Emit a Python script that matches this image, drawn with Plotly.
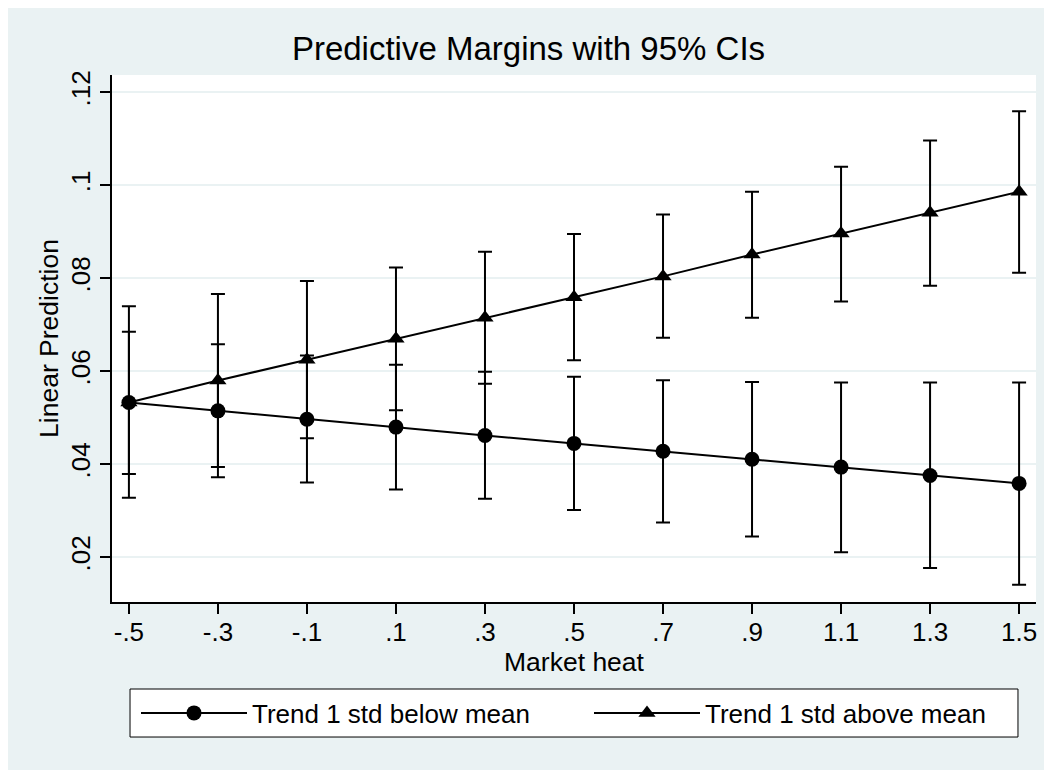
import plotly.graph_objects as go

# ---- data ----
market_heat = [-0.5, -0.3, -0.1, 0.1, 0.3, 0.5, 0.7, 0.9, 1.1, 1.3, 1.5]
x_tick_labels = ["-.5", "-.3", "-.1", ".1", ".3", ".5", ".7", ".9", "1.1", "1.3", "1.5"]

below_mean = [0.0533, 0.0515, 0.0497, 0.0480, 0.0462, 0.0445, 0.0428, 0.0411, 0.0394, 0.0376, 0.0359]
below_lo   = [0.0379, 0.0372, 0.0361, 0.0346, 0.0326, 0.0302, 0.0275, 0.0245, 0.0211, 0.0177, 0.0141]
below_hi   = [0.0685, 0.0658, 0.0634, 0.0614, 0.0599, 0.0588, 0.0581, 0.0577, 0.0576, 0.0576, 0.0576]

above_mean = [0.0533, 0.0580, 0.0625, 0.0670, 0.0715, 0.0759, 0.0804, 0.0851, 0.0896, 0.0941, 0.0986]
above_lo   = [0.0328, 0.0394, 0.0456, 0.0516, 0.0573, 0.0624, 0.0672, 0.0715, 0.0750, 0.0784, 0.0812]
above_hi   = [0.0740, 0.0766, 0.0794, 0.0823, 0.0857, 0.0895, 0.0937, 0.0986, 0.1040, 0.1096, 0.1159]

y_tick_vals = [0.02, 0.04, 0.06, 0.08, 0.10, 0.12]
y_tick_labels = [".02", ".04", ".06", ".08", ".1", ".12"]

series_names = ["Trend 1 std below mean", "Trend 1 std above mean"]

FONT = "Liberation Sans, Arial, Helvetica, sans-serif"
BG = "#EAF2F3"

fig = go.Figure()

def err_trace(mean, lo, hi):
    return go.Scatter(
        x=market_heat, y=mean, mode="markers",
        marker=dict(size=1, color="rgba(0,0,0,0)"),
        error_y=dict(type="data", symmetric=False,
                     array=[h - m for h, m in zip(hi, mean)],
                     arrayminus=[m - l for m, l in zip(mean, lo)],
                     color="black", thickness=2, width=7),
        showlegend=False, hoverinfo="skip")

fig.add_trace(err_trace(below_mean, below_lo, below_hi))
fig.add_trace(err_trace(above_mean, above_lo, above_hi))

fig.add_trace(go.Scatter(
    x=market_heat, y=below_mean, mode="lines+markers", name=series_names[0],
    line=dict(color="black", width=2),
    marker=dict(symbol="circle", size=15, color="black")))
fig.add_trace(go.Scatter(
    x=market_heat, y=above_mean, mode="lines+markers", name=series_names[1],
    line=dict(color="black", width=2),
    marker=dict(symbol="triangle-up", size=15, color="black")))

# legend box
fig.add_shape(type="rect", xref="paper", yref="paper",
              x0=0.0195, x1=0.9805, y0=-0.2562, y1=-0.1651,
              line=dict(color="black", width=1), fillcolor="white", layer="below")

fig.update_layout(
    width=1052, height=770,
    paper_bgcolor=BG, plot_bgcolor="white",
    margin=dict(l=104, r=24, t=67, b=176),
    font=dict(family=FONT, color="black", size=26),
    title=dict(text="Predictive Margins with 95% CIs", x=520.5 / 1052, xref="container",
               y=1 - 40 / 770, yref="container", yanchor="middle", xanchor="center",
               font=dict(size=33, family=FONT, color="black")),
    xaxis=dict(range=[-0.538, 1.538], tickmode="array", tickvals=market_heat,
               ticktext=x_tick_labels, ticks="outside", ticklen=10, tickwidth=1.5,
               tickcolor="black", showgrid=False, zeroline=False,
               showline=True, linecolor="black", linewidth=1.5,
               tickfont=dict(size=26), ticklabelstandoff=-4,
               title=dict(text="Market heat", font=dict(size=26.5), standoff=0)),
    yaxis=dict(range=[0.0104, 0.1237], tickmode="array", tickvals=y_tick_vals,
               ticktext=y_tick_labels, ticks="outside", ticklen=10, tickwidth=1.5,
               tickcolor="black", showgrid=True, gridcolor=BG, gridwidth=1.5,
               zeroline=False, showline=True, linecolor="black", linewidth=1.5,
               tickangle=-90, tickfont=dict(size=26),
               title=dict(text="Linear Prediction", font=dict(size=26.5), standoff=0)),
    legend=dict(orientation="h", xref="container", yref="container",
                x=128 / 1052, y=1 - 705 / 770, xanchor="left", yanchor="middle",
                bgcolor="rgba(0,0,0,0)", borderwidth=0,
                font=dict(size=26, family=FONT), itemwidth=106,
                entrywidth=332, entrywidthmode="pixels"),
)

fig.write_html("out.html")
